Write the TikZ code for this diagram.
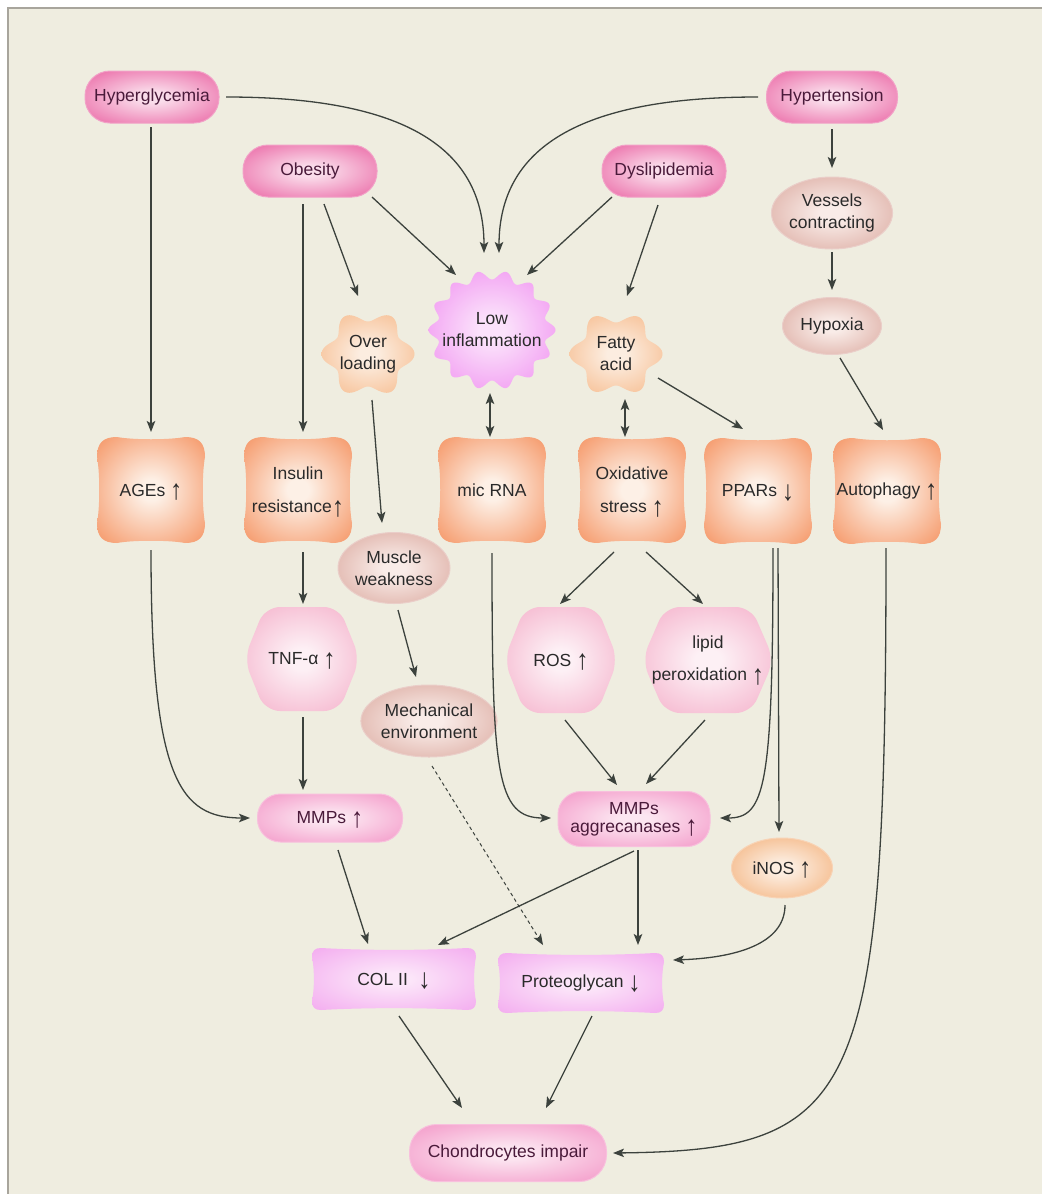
\documentclass[tikz,border=0pt]{standalone}
\usepackage{fontspec}
\usepackage{graphicx}
\setmainfont{Liberation Sans}
\usetikzlibrary{arrows.meta,calc,shapes.geometric}

\definecolor{paperC}{HTML}{EFEDE0}
\definecolor{frameC}{HTML}{A8A59C}
\definecolor{lineC}{HTML}{3C423D}
\definecolor{txtC}{HTML}{2A2A2A}
\definecolor{pinktxt}{HTML}{4A1A3A}
\definecolor{pinkE}{HTML}{E8559A}
\definecolor{pinkC}{HTML}{FADDEB}
\definecolor{mmpE}{HTML}{F28DC2}
\definecolor{mmpC}{HTML}{FCE6F1}
\definecolor{violE}{HTML}{EE80EE}
\definecolor{violC}{HTML}{FBE2FB}
\definecolor{orgE}{HTML}{F48953}
\definecolor{orgC}{HTML}{FDF0E6}
\definecolor{lorgE}{HTML}{F5B27E}
\definecolor{lorgC}{HTML}{FCEDE0}
\definecolor{brnE}{HTML}{D69E93}
\definecolor{brnC}{HTML}{F9ECE8}
\definecolor{hexE}{HTML}{F3A6C3}
\definecolor{hexC}{HTML}{FDF0F5}
\definecolor{magE}{HTML}{F2A4EE}
\definecolor{magC}{HTML}{FCE6F9}
\definecolor{inosE}{HTML}{F2A76A}
\definecolor{inosC}{HTML}{FCEDE0}

% radial glow used by every box: pale centre, saturated rim
\colorlet{sfin}{white}
\colorlet{sfout}{gray}
\pgfdeclareradialshading[sfin,sfout]{softglow}{\pgfpoint{0bp}{0bp}}%
  {color(0bp)=(sfin); color(5bp)=(sfin); color(40bp)=(sfout); color(50bp)=(sfout)}

\pgfdeclarelayer{paper}
\pgfdeclarelayer{shapes}
\pgfsetlayers{paper,shapes,main}

% tall, thin up/down arrows used in the labels
\newcommand\uarr{\smash{\raisebox{-3.5pt}{\scalebox{1.4}[1.6]{↑}}}}
\newcommand\darr{\smash{\raisebox{-3.5pt}{\scalebox{1.4}[1.6]{↓}}}}

% cushion outline: concave sides, rounded corners, centred on a node
\newcommand\pillowshape[6]{%
  \begin{scope}[shift={(#1.center)}]
    \shade[#6] (-#2+#4,-#3)
      .. controls (-#2/3,-#3+#5) and (#2/3,-#3+#5) .. (#2-#4,-#3)
      .. controls (#2-0.3*#4,-#3) and (#2,-#3+0.3*#4) .. (#2,-#3+#4)
      .. controls (#2-#5,-#3/3) and (#2-#5,#3/3) .. (#2,#3-#4)
      .. controls (#2,#3-0.3*#4) and (#2-0.3*#4,#3) .. (#2-#4,#3)
      .. controls (#2/3,#3-#5) and (-#2/3,#3-#5) .. (-#2+#4,#3)
      .. controls (-#2+0.3*#4,#3) and (-#2,#3-0.3*#4) .. (-#2,#3-#4)
      .. controls (-#2+#5,#3/3) and (-#2+#5,-#3/3) .. (-#2,-#3+#4)
      .. controls (-#2,-#3+0.3*#4) and (-#2+0.3*#4,-#3) .. (-#2+#4,-#3) -- cycle;
  \end{scope}}

\tikzset{
  softfill/.code 2 args={\colorlet{sfin}{#1}\colorlet{sfout}{#2}%
    \pgfkeysalso{/tikz/shade,/tikz/shading=softglow}},
  base/.style={font=\fontsize{17.5}{22}\selectfont, text=txtC, align=center, inner sep=0pt},
  pill/.style={base, rectangle, rounded corners=25pt, minimum height=52pt,
    text=pinktxt, softfill={pinkC}{pinkE}, draw=pinkE!55!white, line width=1pt},
  mpill/.style={base, rectangle, rounded corners=23pt, text=pinktxt,
    softfill={mmpC}{mmpE}, draw=mmpE!55!white, line width=1pt},
  oval/.style={base, ellipse, softfill={brnC}{brnE}, draw=brnE!50!white, line width=1pt},
  blank/.style={base, rectangle},
  link/.style={draw=lineC, line width=1.3pt, ->},
  dlink/.style={draw=lineC, line width=1.3pt, <->},
  dashlink/.style={draw=lineC, line width=1pt, dash pattern=on 3.5pt off 3pt, ->},
}

\begin{document}
\begin{tikzpicture}[x=1pt, y=-1pt,
    >={Stealth[length=11pt,width=8.5pt,inset=2.5pt]}]
\useasboundingbox (0,0) rectangle (1042,1194);

\begin{pgfonlayer}{paper}
  \fill[white] (0,0) rectangle (1042,1194);
  \fill[paperC] (8,8) rectangle (1042,1194);
  \draw[frameC, line width=1.2pt] (8,1194) -- (8,8) -- (1042,8);
\end{pgfonlayer}

% ---- risk factors
\node[pill, minimum width=134pt] (hyper)  at (152,97)  {Hyperglycemia};
\node[pill, minimum width=131pt] (hypert) at (832,97)  {Hypertension};
\node[pill, minimum width=134pt] (obes)   at (310,171) {Obesity};
\node[pill, minimum width=124pt] (dysl)   at (664,171) {Dyslipidemia};

% ---- intermediate states
\node[blank, minimum width=128pt, minimum height=120pt] (infl) at (492,330) {Low\\inflammation};
\node[blank, minimum width=94pt, minimum height=88pt] (overl) at (368,354) {Over\\loading};
\node[blank, minimum width=94pt, minimum height=86pt] (fatty) at (616,354) {Fatty\\acid};
\node[oval, minimum width=109pt, minimum height=72pt] (vess)  at (832,213) {Vessels\\contracting};
\node[oval, minimum width=99pt, minimum height=57pt]  (hypox) at (832,326) {Hypoxia};

% ---- cellular responses
\node[blank, minimum width=108pt, minimum height=106pt] (ages)   at (151,490) {AGEs \uarr};
\node[blank, minimum width=108pt, minimum height=106pt] (insul)  at (298,490) {Insulin\\[11pt]resistance\uarr};
\node[blank, minimum width=108pt, minimum height=106pt] (micrna) at (492,490) {mic RNA};
\node[blank, minimum width=108pt, minimum height=106pt] (oxid)   at (632,490) {Oxidative\\[11pt]stress \uarr};
\node[blank, minimum width=108pt, minimum height=106pt] (ppars)  at (758,491) {PPARs \darr};
\node[blank, minimum width=108pt, minimum height=106pt] (autoph) at (887,491) {Autophagy \uarr};

\node[oval, minimum width=112pt, minimum height=71pt] (muscle) at (394,568) {Muscle\\weakness};
\node[oval, minimum width=128pt, minimum height=72pt] (mech)   at (429,721) {Mechanical\\environment};
\node[blank, minimum width=114pt, minimum height=102pt] (tnf)   at (302,659) {TNF-α \uarr};
\node[blank, minimum width=112pt, minimum height=104pt] (ros)   at (561,660) {ROS \uarr};
\node[blank, minimum width=130pt, minimum height=104pt] (lipid) at (708,660) {lipid\\[10pt]peroxidation \uarr};

% ---- mediators and outcomes
\node[mpill, minimum width=145pt, minimum height=48pt] (mmps)    at (330,818) {MMPs \uarr};
\node[mpill, minimum width=152pt, minimum height=55pt] (mmpsagg) at (634,819) {MMPs\\[-4pt]aggrecanases \uarr};
\node[base, ellipse, softfill={inosC}{inosE}, draw=inosE!50!white, line width=1pt,
      minimum width=101pt, minimum height=60pt] (inos) at (782,868) {iNOS \uarr};
\node[blank, minimum width=165pt, minimum height=62pt] (col)    at (394,979) {COL II\hspace{0.6em}\darr};
\node[blank, minimum width=167pt, minimum height=61pt] (proteo) at (581,983) {Proteoglycan \darr};
\node[mpill, minimum width=197pt, minimum height=57pt, rounded corners=27pt] (chondro) at (508,1153) {Chondrocytes impair};

% ---- decorative outlines behind the text nodes
\begin{pgfonlayer}{shapes}
  \begin{scope}[shift={(infl.center)}]
    \shade[softfill={violC}{violE}] plot[variable=\t, domain=0:360, samples=281]
      ({(59+4.5*cos(14*\t))*cos(\t)}, {(55+4.5*cos(14*\t))*sin(\t)}) -- cycle;
  \end{scope}
  \begin{scope}[shift={(overl.center)}]
    \shade[softfill={lorgC}{lorgE}] plot[variable=\t, domain=0:360, samples=181]
      ({(41+5.5*cos(6*\t))*cos(\t)}, {(38+5.5*cos(6*\t))*sin(\t)}) -- cycle;
  \end{scope}
  \begin{scope}[shift={(fatty.center)}]
    \shade[softfill={lorgC}{lorgE}] plot[variable=\t, domain=0:360, samples=181]
      ({(41+5.5*cos(6*\t))*cos(\t)}, {(37+5.5*cos(6*\t))*sin(\t)}) -- cycle;
  \end{scope}
  \foreach \n in {ages,insul,micrna,oxid,ppars,autoph}
    {\pillowshape{\n}{54}{53}{20}{3}{softfill={orgC}{orgE}}}
  \pillowshape{col}{82}{31}{9}{2.5}{softfill={magC}{magE}}
  \pillowshape{proteo}{83}{30}{9}{2.5}{softfill={magC}{magE}}
  \begin{scope}[shift={(tnf.center)}]
    \shade[softfill={hexC}{hexE}, rounded corners=15pt]
      (-58,0) -- (-37,-52) -- (37,-52) -- (58,0) -- (37,52) -- (-37,52) -- cycle;
  \end{scope}
  \begin{scope}[shift={(ros.center)}]
    \shade[softfill={hexC}{hexE}, rounded corners=15pt]
      (-57,0) -- (-36,-53) -- (36,-53) -- (57,0) -- (36,53) -- (-36,53) -- cycle;
  \end{scope}
  \begin{scope}[shift={(lipid.center)}]
    \shade[softfill={hexC}{hexE}, rounded corners=15pt]
      (-66,0) -- (-43,-53) -- (43,-53) -- (66,0) -- (43,53) -- (-43,53) -- cycle;
  \end{scope}
\end{pgfonlayer}

% ---- connectors
\draw[link] ($(hyper.center)+(-1,30)$) -- ($(ages.center)+(0,-58)$);
\draw[link] ($(hyper.center)+(74,0)$) .. controls +(170,0) and +(0,-110) .. ($(infl.center)+(-8,-77)$);
\draw[link] ($(hypert.center)+(-74,0)$) .. controls +(-170,0) and +(0,-110) .. ($(infl.center)+(7,-77)$);
\draw[link] ($(obes.center)+(-7,33)$) -- ($(insul.center)+(5,-58)$);
\draw[link] ($(obes.center)+(14,33)$) -- ($(overl.center)+(-10,-58)$);
\draw[link] ($(obes.center)+(62,26)$) -- ($(infl.center)+(-36,-55)$);
\draw[link] ($(dysl.center)+(-52,26)$) -- ($(infl.center)+(35,-55)$);
\draw[link] ($(dysl.center)+(-6,34)$) -- ($(fatty.center)+(11,-58)$);
\draw[link] ($(hypert.center)+(0,32)$) -- ($(vess.center)+(0,-45)$);
\draw[link] ($(vess.center)+(0,39)$) -- ($(hypox.center)+(0,-36)$);
\draw[link] ($(hypox.center)+(8,32)$) -- ($(autoph.center)+(-4,-61)$);
\draw[dlink] ($(infl.center)+(-2,63)$) -- ($(micrna.center)+(-2,-53)$);
\draw[dlink] ($(fatty.center)+(9,45)$) -- ($(oxid.center)+(-7,-53)$);
\draw[link] ($(fatty.center)+(42,24)$) -- ($(ppars.center)+(-15,-62)$);
\draw[link] ($(overl.center)+(4,46)$) -- ($(muscle.center)+(-12,-45)$);
\draw[link] ($(insul.center)+(5,62)$) -- ($(tnf.center)+(1,-55)$);
\draw[link] ($(muscle.center)+(4,42)$) -- ($(mech.center)+(-13,-44)$);
\draw[link] ($(tnf.center)+(1,58)$) -- ($(mmps.center)+(-27,-28)$);
\draw[link] ($(ages.center)+(0,60)$) .. controls +(0,230) and +(-70,0) .. ($(mmps.center)+(-80,0)$);
\draw[link] ($(micrna.center)+(0,63)$) .. controls +(0,220) and +(-55,0) .. ($(mmpsagg.center)+(-83,-1)$);
\draw[link] ($(oxid.center)+(-18,62)$) -- ($(ros.center)+(-1,-56)$);
\draw[link] ($(oxid.center)+(14,62)$) -- ($(lipid.center)+(-5,-56)$);
\draw[link] ($(ros.center)+(4,60)$) -- ($(mmpsagg.center)+(-17,-34)$);
\draw[link] ($(lipid.center)+(-3,60)$) -- ($(mmpsagg.center)+(12,-35)$);
\draw[link] ($(ppars.center)+(20,57)$) -- ($(inos.center)+(-3,-36)$);
\draw[link] ($(ppars.center)+(15,57)$) .. controls +(0,240) and +(45,0) .. ($(mmpsagg.center)+(86,-1)$);
\draw[link] ($(mmpsagg.center)+(4,31)$) -- ($(proteo.center)+(57,-38)$);
\draw[link] ($(mmpsagg.center)+(0,32)$) -- ($(col.center)+(44,-34)$);
\draw[link] ($(mmps.center)+(8,32)$) -- ($(col.center)+(-26,-35)$);
\draw[dashlink] ($(mech.center)+(3,45)$) -- ($(proteo.center)+(-38,-38)$);
\draw[link] ($(inos.center)+(3,37)$) .. controls +(0,40) and +(60,-2) .. ($(proteo.center)+(92,-23)$);
\draw[link] ($(col.center)+(5,37)$) -- ($(chondro.center)+(-46,-45)$);
\draw[link] ($(proteo.center)+(11,33)$) -- ($(chondro.center)+(38,-45)$);
\draw[link] ($(autoph.center)+(-1,57)$) .. controls +(0,552) and +(247,-3) .. ($(chondro.center)+(105,0)$);
\end{tikzpicture}
\end{document}
